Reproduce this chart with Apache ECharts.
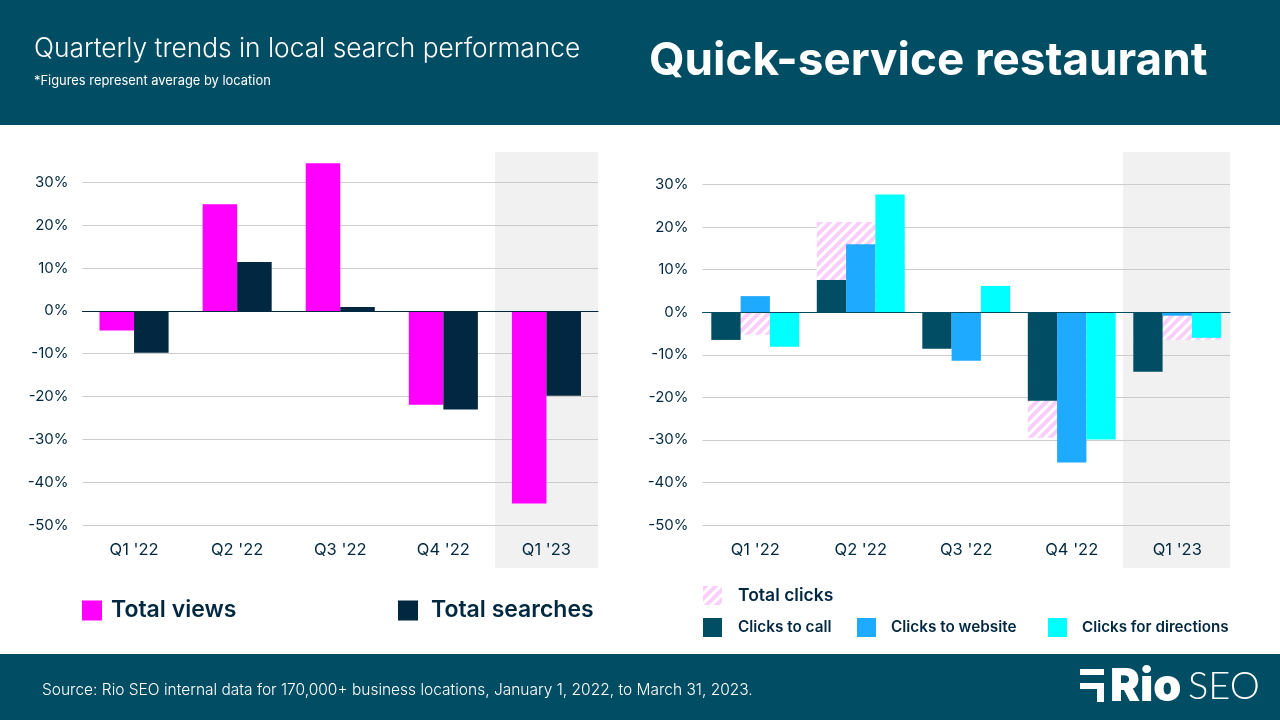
<!DOCTYPE html>
<html>
<head>
<meta charset="utf-8">
<style>html,body{margin:0;padding:0;background:#fff}#main{width:1280px;height:720px}</style>
<script src="https://cdn.jsdelivr.net/npm/echarts@6/dist/echarts.min.js"></script>
</head>
<body>
<div id="main"></div>
<script>
var quarters = ["Q1 '22", "Q2 '22", "Q3 '22", "Q4 '22", "Q1 '23"];
var totalViews = [-4.6, 24.9, 34.5, -21.9, -45];
var totalSearches = [-9.8, 11.4, 0.9, -23, -19.8];
var totalClicks = [-5.3, 21.2, 0, -29.5, -6.5];
var clicksToCall = [-6.5, 7.6, -8.6, -20.8, -14];
var clicksToWebsite = [3.8, 16, -11.4, -35.3, -0.8];
var clicksForDirections = [-8.1, 27.7, 6.2, -29.9, -6];

var TEAL = '#014d63', NAVY = '#012840', BLUE = '#1eaaff', CYAN = '#00ffff', MAGENTA = '#ff00ff';
var FONT = 'Inter';

var chart = echarts.init(document.getElementById('main'), null, {renderer: 'canvas'});

function valueAxis(gridIndex) {
  return {
    type: 'value', gridIndex: gridIndex, min: -50, max: 40, interval: 10,
    axisLine: {show: false}, axisTick: {show: false},
    axisLabel: {formatter: '{value}%', showMaxLabel: false, margin: 14,
      color: NAVY, fontFamily: FONT, fontSize: 15, padding: [2, 0, 0, 0]},
    splitLine: {showMaxLine: false, lineStyle: {color: '#cccccc', width: 1}}
  };
}
function labelAxis(gridIndex) {
  return {
    type: 'category', gridIndex: gridIndex, data: quarters, position: 'bottom',
    axisLine: {show: false, onZero: false}, axisTick: {show: false},
    axisLabel: {margin: 17, color: NAVY, fontFamily: FONT, fontSize: 16.5}
  };
}
// second axis: draws the zero line and holds the wide hatched bars
function zeroAxis(gridIndex, color) {
  return {
    type: 'category', gridIndex: gridIndex, data: quarters, position: 'top', z: 5,
    axisLine: {onZero: true, lineStyle: {color: color, width: 1}},
    axisTick: {show: false}, axisLabel: {show: false}
  };
}
function legendItem(name, left, top, size, gap) {
  return {
    data: [name], left: left, top: top, padding: 0, itemWidth: size > 20 ? 20 : 19,
    itemHeight: size > 20 ? 20 : 19, icon: 'rect', selectedMode: false,
    textStyle: {color: NAVY, fontFamily: FONT, fontWeight: 600, fontSize: size, padding: [2, 0, 0, gap]}
  };
}
function text(str, x, y, size, weight, color, family) {
  return {type: 'text', z: 10, silent: true, x: x, y: y,
    style: {text: str, fill: color || '#ffffff', fontFamily: family || FONT, fontSize: size,
      fontWeight: weight, textVerticalAlign: 'middle'}};
}
function rect(x, y, w, h, fill, z) {
  return {type: 'rect', z: z, silent: true, shape: {x: x, y: y, width: w, height: h}, style: {fill: fill}};
}

chart.setOption({
  animation: false,
  backgroundColor: '#ffffff',
  grid: [
    {left: 82.5, width: 515.5, top: 139.6, height: 385.4},
    {left: 702.5, width: 527.5, top: 142.1, height: 382.9}
  ],
  xAxis: [labelAxis(0), zeroAxis(0, NAVY), labelAxis(1), zeroAxis(1, TEAL)],
  yAxis: [valueAxis(0), valueAxis(1)],
  legend: [
    legendItem('Total views', 82, 599, 23, 4),
    legendItem('Total searches', 398, 599, 23, 8),
    legendItem('Total clicks', 703, 586, 17.5, 11),
    legendItem('Clicks to call', 703, 618, 15.3, 11),
    legendItem('Clicks to website', 857, 618, 15.3, 10),
    legendItem('Clicks for directions', 1048, 618, 15.2, 10)
  ],
  graphic: [
    rect(0, 0, 1280, 125, TEAL, 9),
    rect(0, 654, 1280, 66, TEAL, 9),
    rect(495, 152, 103, 416, '#f1f1f1', -1),
    rect(1123, 152, 107, 416, '#f1f1f1', -1),
    text('Quarterly trends in local search performance', 34, 49, 26.3, 300),
    text('*Figures represent average by location', 34, 81, 12.9, 400),
    text('Quick-service restaurant', 649, 61, 45.8, 700),
    text('Source: Rio SEO internal data for 170,000+ business locations, January 1, 2022, to March 31, 2023.', 42, 690, 15.5, 300),
    rect(1080, 669, 24, 6, '#ffffff', 10),
    rect(1080, 683, 24, 6, '#ffffff', 10),
    rect(1097, 683, 7, 19, '#ffffff', 10),
    text('Rio', 1110, 687, 45, 900),
    text('SEO', 1188, 687, 38, 300, '#ffffff', 'Lato')
  ],
  series: [
    {name: 'Total views', type: 'bar', xAxisIndex: 0, yAxisIndex: 0, data: totalViews,
      barGap: 0, barCategoryGap: '33%', itemStyle: {color: MAGENTA}},
    {name: 'Total searches', type: 'bar', xAxisIndex: 0, yAxisIndex: 0, data: totalSearches,
      itemStyle: {color: NAVY}},
    {name: 'Total clicks', type: 'bar', xAxisIndex: 3, yAxisIndex: 1, data: totalClicks, z: 1,
      barCategoryGap: '16.7%',
      itemStyle: {color: '#ffffff', decal: {symbol: 'rect', symbolSize: 1, color: '#f9cff9',
        dashArrayX: [1, 0], dashArrayY: [4, 3], rotation: -Math.PI / 4}}},
    {name: 'Clicks to call', type: 'bar', xAxisIndex: 2, yAxisIndex: 1, data: clicksToCall,
      barGap: 0, barCategoryGap: '16.7%', itemStyle: {color: TEAL}},
    {name: 'Clicks to website', type: 'bar', xAxisIndex: 2, yAxisIndex: 1, data: clicksToWebsite,
      itemStyle: {color: BLUE}},
    {name: 'Clicks for directions', type: 'bar', xAxisIndex: 2, yAxisIndex: 1, data: clicksForDirections,
      itemStyle: {color: CYAN}}
  ]
});
</script>
</body>
</html>
